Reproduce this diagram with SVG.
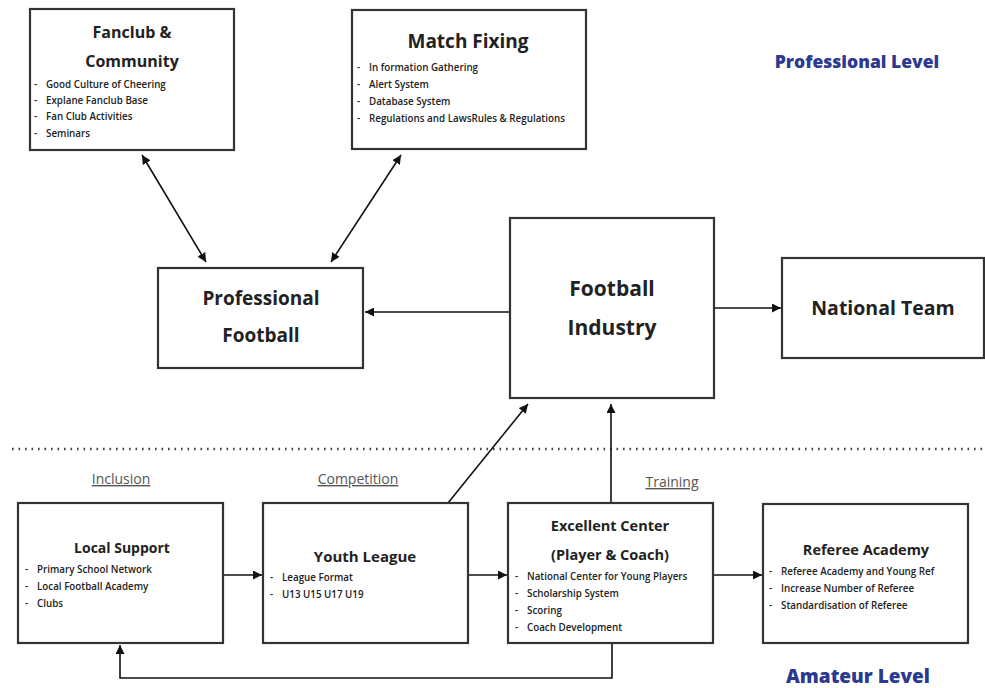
<svg xmlns="http://www.w3.org/2000/svg" width="985" height="688" viewBox="0 0 985 688">
<defs>
<marker id="ah" viewBox="0 0 10 10" refX="10" refY="5" markerWidth="9" markerHeight="9" markerUnits="userSpaceOnUse" orient="auto-start-reverse">
<path d="M0,0 L10,5 L0,10 z" fill="#111"/>
</marker>
<style>
.box{fill:#fff;stroke:#333;stroke-width:2.2}
.t{font-family:"Open Sans","Noto Sans",sans-serif;font-weight:700;fill:#222;text-anchor:middle}
.b{font-family:"Open Sans","Noto Sans",sans-serif;font-weight:600;font-size:9.8px;fill:#222}
.sec{font-family:"Open Sans","Liberation Sans",sans-serif;font-size:14px;fill:#555;text-anchor:middle;text-decoration:underline}
.lvl{font-family:"Open Sans","Noto Sans",sans-serif;font-weight:800;fill:#2b3990;text-anchor:middle}
.c{fill:none;stroke:#111;stroke-width:1.6}
</style>
</defs>
<rect width="985" height="688" fill="#fff"/>

<line x1="12" y1="449" x2="985" y2="449" stroke="#444" stroke-width="2.6" stroke-dasharray="1.6 4.9"/>

<text class="lvl" x="857" y="68" font-size="17.5">Professional Level</text>
<text class="lvl" x="858" y="683" font-size="19">Amateur Level</text>

<text class="sec" x="121" y="484">Inclusion</text>
<text class="sec" x="358" y="484">Competition</text>
<text class="sec" x="672" y="487">Training</text>

<g id="connectors">
<line class="c" x1="142" y1="155" x2="206" y2="262" marker-start="url(#ah)" marker-end="url(#ah)"/>
<line class="c" x1="401" y1="155" x2="331" y2="262" marker-start="url(#ah)" marker-end="url(#ah)"/>
<line class="c" x1="510" y1="312" x2="365" y2="312" marker-end="url(#ah)"/>
<line class="c" x1="714" y1="308" x2="781" y2="308" marker-end="url(#ah)"/>
<line class="c" x1="448" y1="503" x2="528" y2="404" marker-end="url(#ah)"/>
<line class="c" x1="611" y1="503" x2="611" y2="404" marker-end="url(#ah)"/>
<line class="c" x1="223" y1="575" x2="262" y2="575" marker-end="url(#ah)"/>
<line class="c" x1="468" y1="575" x2="507" y2="575" marker-end="url(#ah)"/>
<line class="c" x1="713" y1="575" x2="762" y2="575" marker-end="url(#ah)"/>
<polyline class="c" points="612,643 612,678 120,678 120,645" marker-end="url(#ah)"/>
</g>

<g id="fanclub">
<rect class="box" x="30" y="9" width="204" height="141"/>
<text class="t" x="132" y="38" font-size="16">Fanclub &amp;</text>
<text class="t" x="132" y="67" font-size="16">Community</text>
<text class="b" x="34" y="88">-</text><text class="b" x="46" y="88">Good Culture of Cheering</text>
<text class="b" x="34" y="104">-</text><text class="b" x="46" y="104">Explane Fanclub Base</text>
<text class="b" x="34" y="120">-</text><text class="b" x="46" y="120">Fan Club Activities</text>
<text class="b" x="34" y="137">-</text><text class="b" x="46" y="137">Seminars</text>
</g>

<g id="matchfixing">
<rect class="box" x="352" y="10" width="234" height="139"/>
<text class="t" x="468" y="48" font-size="19" font-weight="600">Match Fixing</text>
<text class="b" x="357" y="71">-</text><text class="b" x="369" y="71">In formation Gathering</text>
<text class="b" x="357" y="88">-</text><text class="b" x="369" y="88">Alert System</text>
<text class="b" x="357" y="105">-</text><text class="b" x="369" y="105">Database System</text>
<text class="b" x="357" y="122">-</text><text class="b" x="369" y="122">Regulations  and LawsRules &amp; Regulations</text>
</g>

<g id="profootball">
<rect class="box" x="158" y="268" width="205" height="100"/>
<text class="t" x="261" y="305" font-size="19">Professional</text>
<text class="t" x="261" y="342" font-size="19">Football</text>
</g>

<g id="industry">
<rect class="box" x="510" y="218" width="204" height="180"/>
<text class="t" x="612" y="296" font-size="21">Football</text>
<text class="t" x="612" y="335" font-size="21">Industry</text>
</g>

<g id="national">
<rect class="box" x="782" y="258" width="202" height="100"/>
<text class="t" x="883" y="315" font-size="19.5">National Team</text>
</g>

<g id="localsupport">
<rect class="box" x="18" y="503" width="205" height="140"/>
<text class="t" x="122" y="553" font-size="14">Local Support</text>
<text class="b" x="25" y="573">-</text><text class="b" x="37" y="573">Primary School Network</text>
<text class="b" x="25" y="590">-</text><text class="b" x="37" y="590">Local Football Academy</text>
<text class="b" x="25" y="607">-</text><text class="b" x="37" y="607">Clubs</text>
</g>

<g id="youthleague">
<rect class="box" x="263" y="503" width="205" height="140"/>
<text class="t" x="365" y="562" font-size="15">Youth League</text>
<text class="b" x="270" y="581">-</text><text class="b" x="282" y="581">League Format</text>
<text class="b" x="270" y="598">-</text><text class="b" x="282" y="598">U13 U15 U17 U19</text>
</g>

<g id="excellent">
<rect class="box" x="508" y="503" width="205" height="140"/>
<text class="t" x="610" y="531" font-size="14.5">Excellent Center</text>
<text class="t" x="610" y="560" font-size="14.5">(Player &amp; Coach)</text>
<text class="b" x="515" y="580">-</text><text class="b" x="527" y="580">National Center for Young Players</text>
<text class="b" x="515" y="597">-</text><text class="b" x="527" y="597">Scholarship System</text>
<text class="b" x="515" y="614">-</text><text class="b" x="527" y="614">Scoring</text>
<text class="b" x="515" y="631">-</text><text class="b" x="527" y="631">Coach Development</text>
</g>

<g id="referee">
<rect class="box" x="763" y="504" width="205" height="139"/>
<text class="t" x="866" y="555" font-size="14.5">Referee Academy</text>
<text class="b" x="769" y="575">-</text><text class="b" x="781" y="575">Referee Academy and Young Ref</text>
<text class="b" x="769" y="592">-</text><text class="b" x="781" y="592">Increase Number of Referee</text>
<text class="b" x="769" y="609">-</text><text class="b" x="781" y="609">Standardisation of Referee</text>
</g>
</svg>
